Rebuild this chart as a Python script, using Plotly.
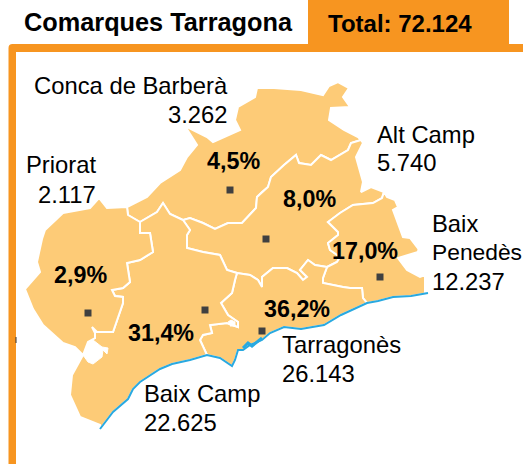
import plotly.graph_objects as go

# ---- data ----
comarques = ["Conca de Barberà", "Alt Camp", "Baix Penedès", "Tarragonès", "Baix Camp", "Priorat"]
habitants = ["3.262", "5.740", "12.237", "26.143", "22.625", "2.117"]
percentatges = ["4,5%", "8,0%", "17,0%", "36,2%", "31,4%", "2,9%"]
total = "72.124"

# map geometry (x, y in picture units)
EDGE_CONCA = [(127,207),(107,208),(99,198),(90,208)]
EDGE_PRIORAT = [(90,208),(63,213),(45,230),(42,239),(37,262),(40,272),(25,289),(33,309),(43,325),(63,343),(75,347),(83,355)]
EDGE_BCAMP_W = [(83,355),(72,375),(70,395),(80,417),(100,425),(100,429)]
COAST_BCAMP = [(100,429),(113,412),(128,399),(133,389),(140,382),(160,369),(172,364),(190,360),(207,355)]
COAST_TARR = [(207,355),(220,358),(232,366),(235,360),(238,350),(243,350),(250,345),(262,340),(270,333),(277,330),(284,327),(301,329),(324,325),(341,315),(361,306),(367,303)]
COAST_BPEN = [(367,303),(378,301),(393,297),(411,296),(428,293)]
EDGE_BPEN = [(428,293),(425,292),(425,275),(420,277),(407,270),(402,263),(398,258),(418,252),(420,240),(417,247),(410,238),(403,237),(395,217),(393,210),(398,207),(395,200),(387,197),(384,192)]
EDGE_ALT = [(384,192),(371,187),(361,192),(363,182),(356,157),(363,143),(361,140)]
EDGE_CONCA_N = [(361,140),(358,137),(344,130),(329,120),(331,108),(350,107),(343,97),(349,88),(338,82),(329,86),(323,95),(301,90),(274,88),(257,88),(255,97),(238,107),(235,120),(240,130),(213,142),(207,137),(185,126),(197,145),(187,157),(180,170),(160,183),(147,197),(127,207)]
BORDER_CONCA_ALT = [(361,140),(351,143),(348,150),(331,160),(321,155),(311,165),(299,163),(296,155),(284,165),(271,177),(268,187),(262,192),(257,197),(256,208),(242,223),(228,223),(215,229),(203,223),(190,218),(183,220)]
BORDER_CONCA_BCAMP = [(183,220),(170,214),(163,203),(157,212),(140,222)]
BORDER_CONCA_PRIORAT = [(140,222),(128,215),(127,207)]
BORDER_PRIORAT_BCAMP = [(140,222),(140,233),(150,233),(153,252),(140,260),(127,263),(130,282),(123,288),(112,290),(115,296),(123,297),(123,303),(113,332),(97,332),(92,327),(95,333),(95,338),(88,342),(83,355)]
BORDER_ALT_BCAMP = [(183,220),(190,230),(187,235),(187,248),(203,252),(220,255),(227,270),(237,273)]
BORDER_ALT_TARR = [(237,273),(250,275),(258,280),(262,287),(262,277),(273,268),(287,268),(297,273),(303,280),(307,277),(300,270),(308,260),(315,265),(327,267)]
BORDER_ALT_BPEN = [(327,267),(337,262),(340,257),(330,250),(328,243),(338,235),(338,232),(328,222),(340,213),(353,205),(373,203),(382,198),(384,192)]
BORDER_TARR_BPEN = [(327,267),(323,278),(323,283),(343,287),(350,288),(362,288),(363,298),(367,303)]
BORDER_BCAMP_TARR = [(237,273),(235,280),(232,293),(221,303),(228,315),(238,322),(238,327),(227,323),(210,325),(212,333),(203,335),(200,340),(207,355)]
LAKE = [(88,342),(93,340),(102,347),(108,348),(107,354),(103,350),(102,357),(93,364),(88,362),(83,355)]
POND = [(228,322),(231,320),(235,322),(235,326),(230,326)]
DELTA = [(243,348),(248,343),(252,346),(262,338)]


def rev(p):
    return p[::-1]

regions = {
    "Conca de Barberà": EDGE_CONCA_N + rev(BORDER_CONCA_PRIORAT) + rev(BORDER_CONCA_BCAMP) + rev(BORDER_CONCA_ALT),
    "Alt Camp": EDGE_ALT + BORDER_CONCA_ALT + BORDER_ALT_BCAMP + BORDER_ALT_TARR + BORDER_ALT_BPEN,
    "Baix Penedès": COAST_BPEN + EDGE_BPEN + rev(BORDER_ALT_BPEN) + BORDER_TARR_BPEN,
    "Tarragonès": COAST_TARR + rev(BORDER_TARR_BPEN) + rev(BORDER_ALT_TARR) + BORDER_BCAMP_TARR,
    "Baix Camp": EDGE_BCAMP_W + COAST_BCAMP + rev(BORDER_BCAMP_TARR) + rev(BORDER_ALT_BCAMP) + BORDER_CONCA_BCAMP + BORDER_PRIORAT_BCAMP,
    "Priorat": EDGE_CONCA + EDGE_PRIORAT + rev(BORDER_PRIORAT_BCAMP) + BORDER_CONCA_PRIORAT,
}

# ---- layout of labels ----
centres = [(230,190),(266,239),(380,277),(262,331),(205,310),(88,313)]
pct_pos = [(233,161),(309,199),(365,251),(297,309),(161,333),(80,275)]
name_lines = [
    [("Conca de Barberà",230,85,"right",23.8),(habitants[0],230,114,"right",23.8)],
    [("Alt Camp",375,134,"left",23.8),(habitants[1],375,162,"left",23.8)],
    [("Baix",430,223,"left",23.8),("Penedès",430,252,"left",22.8),(habitants[2],430,281,"left",23.8)],
    [("Tarragonès",280,344,"left",23.8),(habitants[3],280,373,"left",23.8)],
    [("Baix Camp",142,393,"left",23.8),(habitants[4],142,422,"left",23.8)],
    [("Priorat",98,164,"right",23.8),(habitants[5],98,194,"right",23.8)],
]

LAND = "#FDCB77"
ORANGE = "#F79520"
FONT = "Liberation Sans, Arial, sans-serif"

fig = go.Figure()

for name in comarques:
    pts = regions[name]
    fig.add_trace(go.Scatter(x=[p[0] for p in pts], y=[p[1] for p in pts], mode="lines",
                             fill="toself", fillcolor=LAND, line=dict(color="white", width=2),
                             hoverinfo="text", text=name, showlegend=False))

for water in (LAKE, POND):
    fig.add_trace(go.Scatter(x=[p[0] for p in water], y=[p[1] for p in water], mode="lines",
                             fill="toself", fillcolor="white", line=dict(color="white", width=1),
                             hoverinfo="skip", showlegend=False))

coast = COAST_BCAMP + COAST_TARR[1:] + COAST_BPEN[1:]
fig.add_trace(go.Scatter(x=[p[0] for p in coast], y=[p[1] for p in coast], mode="lines",
                         line=dict(color="#29A9E0", width=2), hoverinfo="skip", showlegend=False))
fig.add_trace(go.Scatter(x=[p[0] for p in DELTA], y=[p[1] for p in DELTA], mode="lines",
                         line=dict(color="#29A9E0", width=3), hoverinfo="skip", showlegend=False))

fig.add_trace(go.Scatter(x=[c[0] for c in centres], y=[c[1] for c in centres], mode="markers",
                         marker=dict(symbol="square", size=7, color="#404040"),
                         hoverinfo="skip", showlegend=False))

annotations = []
def label(text, x, y, anchor, size, bold=False):
    annotations.append(dict(x=x, y=y, xref="x", yref="y", text=f"<b>{text}</b>" if bold else text,
                            showarrow=False, xanchor=anchor, yanchor="middle",
                            font=dict(family=FONT, size=size, color="#000000")))

for lines in name_lines:
    for t, x, y, a, s in lines:
        label(t, x, y, a, s)
for p, (x, y) in zip(percentatges, pct_pos):
    label(p, x, y, "center", 23.3, True)
label("Comarques Tarragona", 22, 22, "left", 25.3, True)
label("Total: " + total, 326, 23, "left", 24, True)

shapes = [
    dict(type="rect", xref="x", yref="y", x0=308, x1=509, y0=0, y1=46, fillcolor=ORANGE, line_width=0, layer="below"),
    dict(type="path", xref="x", yref="y", path="M 16,464 L 8.5,464 L 8.5,48 Q 8.5,44 12.5,44 L 523,44 L 523,52 L 16,52 Z",
         fillcolor=ORANGE, line_width=0, layer="below"),
    dict(type="rect", xref="x", yref="y", x0=15.5, x1=16.5, y0=337, y1=343, fillcolor="#333333", line_width=0),
]

fig.update_layout(
    width=523, height=464, margin=dict(l=0, r=0, t=0, b=0),
    paper_bgcolor="white", plot_bgcolor="white", showlegend=False,
    xaxis=dict(range=[0, 523], visible=False, fixedrange=True),
    yaxis=dict(range=[464, 0], visible=False, fixedrange=True),
    annotations=annotations, shapes=shapes,
)

fig.write_html("out.html", config={"displayModeBar": False},
               post_script="document.body.style.margin='0';document.documentElement.style.overflow='hidden';")
